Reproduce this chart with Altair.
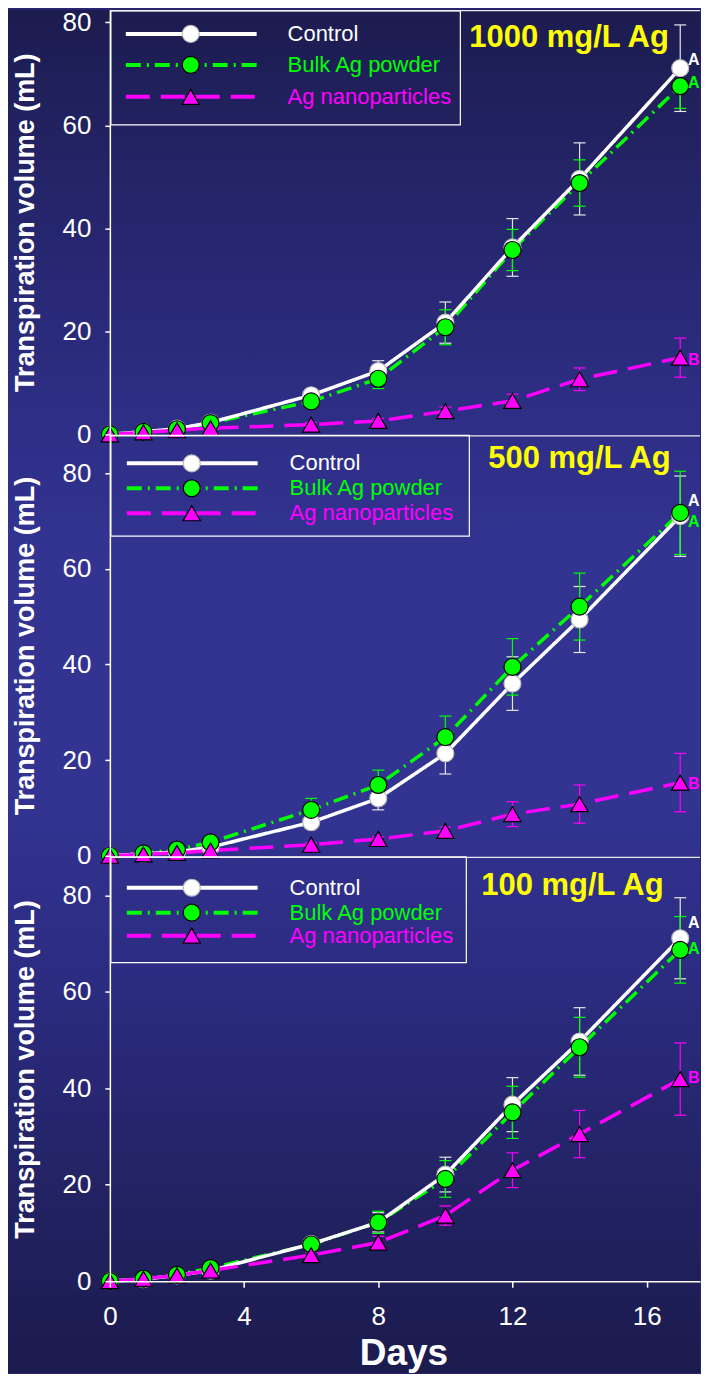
import altair as alt
import pandas as pd

# ---------------- data ----------------
days = [0, 1, 2, 3, 6, 8, 10, 12, 14, 17]
series = ["Control", "Bulk Ag powder", "Ag nanoparticles"]
panel_titles = ["1000 mg/L Ag", "500 mg/L Ag", "100 mg/L Ag"]

# 1000 mg/L Ag
c1000 = [0, 0.5, 1.1, 2.3, 7.6, 12.3, 21.7, 36.3, 49.6, 71.1]
c1000_err = [0, 0.2, 0.3, 0.4, 1.0, 2.0, 4.0, 5.6, 7.0, 8.4]
b1000 = [0, 0.5, 1.0, 2.2, 6.4, 10.8, 20.8, 35.8, 48.8, 67.6]
b1000_err = [0, 0.2, 0.3, 0.4, 0.8, 1.9, 3.4, 4.0, 4.5, 4.3]
n1000 = [0, 0.4, 0.8, 1.2, 1.9, 2.6, 4.5, 6.5, 10.7, 14.9]
n1000_err = [0, 0.1, 0.2, 0.3, 0.4, 0.5, 0.8, 1.3, 2.2, 3.8]

# 500 mg/L Ag
c500 = [0, 0.4, 0.8, 1.8, 7.0, 12.0, 21.4, 36.0, 49.4, 71.0]
c500_err = [0, 0.2, 0.3, 0.4, 1.0, 2.4, 4.3, 5.6, 6.9, 8.4]
b500 = [0, 0.5, 1.3, 2.8, 9.6, 14.8, 24.8, 39.5, 52.1, 71.7]
b500_err = [0, 0.2, 0.3, 0.5, 2.4, 3.1, 4.4, 5.9, 7.0, 8.7]
n500 = [0, 0.3, 0.6, 1.1, 2.3, 3.5, 5.2, 8.7, 10.8, 15.3]
n500_err = [0, 0.1, 0.2, 0.3, 0.4, 0.5, 0.8, 2.6, 4.0, 6.1]

# 100 mg/L Ag
c100 = [0, 0.4, 1.2, 2.2, 7.7, 12.2, 22.1, 36.6, 49.7, 71.1]
c100_err = [0, 0.2, 0.3, 0.4, 1.0, 2.0, 3.6, 5.6, 7.0, 8.4]
b100 = [0, 0.5, 1.3, 2.7, 7.6, 12.2, 21.2, 35.0, 48.5, 68.7]
b100_err = [0, 0.2, 0.3, 0.4, 1.2, 2.3, 3.8, 5.4, 6.2, 6.9]
n100 = [0, 0.5, 1.2, 2.2, 5.4, 8.0, 13.6, 23.0, 30.5, 41.9]
n100_err = [0, 0.2, 0.3, 0.4, 0.6, 1.3, 2.0, 3.6, 4.9, 7.5]

# significance letters at the last day
letter_text = ["A", "A", "B"]
letter_day = 17.23
letters1000 = [72.7, 68.2, 14.5]
letters500 = [74.1, 69.8, 15.1]
letters100 = [74.3, 68.9, 42.1]

# ---------------- styling ----------------
FONT = "Liberation Sans"
colors = ["#ffffff", "#00ff00", "#ff00ff"]
errcolors = ["#e6e6e6", "#00ff00", "#ff00ff"]
dashes = [[1, 0], [15, 6, 2, 6], [24, 11]]
shapes = ["circle", "circle", "triangle-up"]
sizes = [289, 289, 300]
strokes = ["#bbbbbb", "#000000", "#000000"]

W = 591
XMAX = 591 / 33.6
TOTAL_H = 1365
one = pd.DataFrame({"k": [0]})

bg_grad = alt.LinearGradient(
    gradient="linear", x1=0, x2=0, y1=0, y2=1,
    stops=[
        alt.GradientStop(offset=0.0, color="#1c1c50"),
        alt.GradientStop(offset=0.14, color="#25256b"),
        alt.GradientStop(offset=0.30, color="#2e2e86"),
        alt.GradientStop(offset=0.40, color="#333392"),
        alt.GradientStop(offset=0.58, color="#333392"),
        alt.GradientStop(offset=0.72, color="#2b2b80"),
        alt.GradientStop(offset=0.86, color="#232365"),
        alt.GradientStop(offset=1.0, color="#1b1b4e"),
    ],
)


def build_panel(idx, vals, errs, lets, height, ymax, layout, show_x, with_bg):
    rows = []
    for s in range(3):
        for d, v, e in zip(days, vals[s], errs[s]):
            rows.append({"day": d, "v": v, "lo": v - e, "hi": v + e, "series": series[s]})
    df = pd.DataFrame(rows)
    let_df = pd.DataFrame({"day": [letter_day] * 3, "v": lets, "t": letter_text, "series": series})

    xscale = alt.Scale(domain=[0, XMAX], nice=False, zero=False)
    yscale = alt.Scale(domain=[0, ymax], nice=False)
    if show_x:
        xaxis = alt.Axis(values=[0, 4, 8, 12, 16], title="Days", labelFont=FONT, titleFont=FONT,
                         labelFontSize=26, labelColor="white", labelPadding=16, labelFlush=False,
                         tickSize=6, tickColor="white", tickWidth=1.5, domainColor="white",
                         domainWidth=1.5, grid=False, titleFontSize=37, titleFontWeight="bold",
                         titleColor="white", titlePadding=6, titleX=294, zindex=1)
    else:
        xaxis = None
    yaxis = alt.Axis(values=[0, 20, 40, 60, 80], title="Transpiration volume (mL)",
                     labelFont=FONT, titleFont=FONT, labelFontSize=26, labelColor="white",
                     labelPadding=14, tickSize=5, tickColor="white", tickWidth=1.5,
                     domainColor="white", domainWidth=1.5, grid=False, titleFontSize=27,
                     titleFontWeight="bold", titleColor="white", titleX=-70, zindex=1)

    def X(f="day"):
        return alt.X(f"{f}:Q", scale=xscale, axis=xaxis)

    def Y(f):
        return alt.Y(f"{f}:Q", scale=yscale, axis=yaxis)

    layers = []
    if with_bg:
        layers.append(
            alt.Chart(one).mark_rect(fill=bg_grad, stroke=None).encode(
                x=alt.value(-102), x2=alt.value(W), y=alt.value(0), y2=alt.value(TOTAL_H)))
    layers.append(
        alt.Chart(one).mark_rule(color="#e8e8f0", strokeWidth=1.2).encode(
            x=alt.value(0), x2=alt.value(W), y=alt.value(0.6)))

    for s in range(3):
        sd = df[df.series == series[s]]
        base = alt.Chart(sd)
        layers.append(base.mark_rule(color=errcolors[s], strokeWidth=1.2).encode(
            x=X(), y=Y("lo"), y2="hi:Q"))
        layers.append(base.mark_tick(orient="horizontal", size=12, thickness=1.2,
                                     color=errcolors[s], opacity=1).encode(x=X(), y=Y("lo")))
        layers.append(base.mark_tick(orient="horizontal", size=12, thickness=1.2,
                                     color=errcolors[s], opacity=1).encode(x=X(), y=Y("hi")))
    for s in [1, 0, 2]:
        sd = df[df.series == series[s]]
        layers.append(alt.Chart(sd).mark_line(color=colors[s], strokeWidth=3.5,
                                              strokeDash=dashes[s]).encode(x=X(), y=Y("v")))
    for s in range(3):
        sd = df[df.series == series[s]]
        layers.append(alt.Chart(sd).mark_point(filled=True, shape=shapes[s], size=sizes[s],
                                               fill=colors[s], stroke=strokes[s],
                                               strokeWidth=1.2, opacity=1).encode(
            x=X(), y=Y("v")))
    for s in range(3):
        ld = let_df[let_df.series == series[s]]
        layers.append(alt.Chart(ld).mark_text(font=FONT, fontSize=16, fontWeight="bold",
                                              color=colors[s], align="left", baseline="middle",
                                              clip=True).encode(x=X(), y=Y("v"), text="t:N"))

    # legend
    bx0, by0, bx1, by1 = layout["box"]
    layers.append(alt.Chart(one).mark_rect(fillOpacity=0, stroke="white", strokeWidth=1.2).encode(
        x=alt.value(bx0), x2=alt.value(bx1), y=alt.value(by0), y2=alt.value(by1)))
    for s in range(3):
        ry = layout["rows"][s]
        layers.append(alt.Chart(one).mark_rule(color=colors[s], strokeWidth=4,
                                               strokeDash=dashes[s]).encode(
            x=alt.value(layout["line"][0]), x2=alt.value(layout["line"][1]), y=alt.value(ry)))
        layers.append(alt.Chart(one).mark_point(filled=True, shape=shapes[s], size=sizes[s],
                                                fill=colors[s], stroke=strokes[s],
                                                strokeWidth=1.2, opacity=1).encode(
            x=alt.value(layout["marker"]), y=alt.value(ry)))
        layers.append(alt.Chart(one).mark_text(font=FONT, fontSize=22, color=colors[s],
                                               align="left", baseline="middle").encode(
            x=alt.value(layout["label"]), y=alt.value(ry), text=alt.value(series[s])))
    tx, tyb = layout["title"]
    layers.append(alt.Chart(one).mark_text(font=FONT, fontSize=31, fontWeight="bold",
                                           color="#ffff00", align="left",
                                           baseline="alphabetic").encode(
        x=alt.value(tx), y=alt.value(tyb), text=alt.value(panel_titles[idx])))

    return alt.layer(*layers).properties(width=W, height=height)


layouts = [
    {"box": (1, 1, 351, 115), "rows": [24, 55, 87], "line": (16, 147), "marker": 81,
     "label": 178, "title": (360, 37)},
    {"box": (1, 0, 360, 101), "rows": [28, 53, 78], "line": (17, 148), "marker": 82,
     "label": 180, "title": (379, 33)},
    {"box": (1, 0, 357, 106), "rows": [31, 56, 79], "line": (17, 148), "marker": 82,
     "label": 180, "title": (372, 38)},
]

p1 = build_panel(0, [c1000, b1000, n1000], [c1000_err, b1000_err, n1000_err], letters1000,
                 425, 82.4, layouts[0], False, True)
p2 = build_panel(1, [c500, b500, n500], [c500_err, b500_err, n500_err], letters500,
                 421, 87.9, layouts[1], False, False)
p3 = build_panel(2, [c100, b100, n100], [c100_err, b100_err, n100_err], letters100,
                 425, 88.0, layouts[2], True, False)

chart = alt.vconcat(p1, p2, p3, spacing=1, bounds="flush").configure(
    background="#262670", padding=0, font=FONT
).configure_view(stroke=None)

chart.save("out.html", embed_options={"renderer": "svg", "actions": False})
